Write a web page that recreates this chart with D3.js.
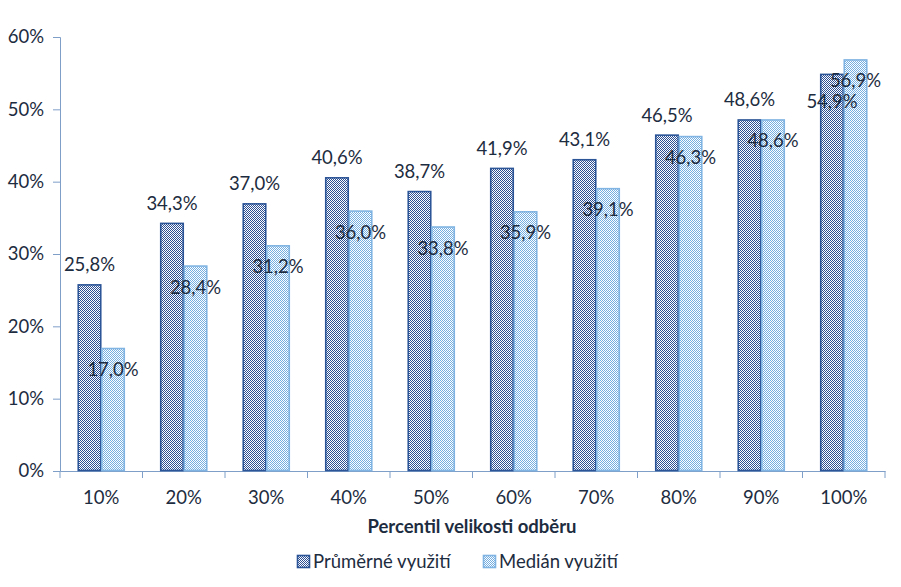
<!DOCTYPE html>
<html><head><meta charset="utf-8">
<script src="https://cdn.jsdelivr.net/npm/d3@7"></script>
<style>body{margin:0;background:#fff}svg{display:block}text{font-family:Lato,"Open Sans",sans-serif}</style>
</head><body><svg id="c" width="901" height="587"></svg>
<script>
const categories = ["10%","20%","30%","40%","50%","60%","70%","80%","90%","100%"];
const prumer = [25.8,34.3,37.0,40.6,38.7,41.9,43.1,46.5,48.6,54.9];
const median = [17.0,28.4,31.2,36.0,33.8,35.9,39.1,46.3,48.6,56.9];
const yTicks = [0,10,20,30,40,50,60];
const seriesNames = ["Průměrné využití","Medián využití"];

const svg = d3.select("#c");
const W = 901, H = 587;
const m = {l:60, r:16, t:37, b:116};
const FS = 18.5;
const x = d3.scaleBand().domain(categories).range([m.l, W - m.r]);
const bw = x.bandwidth() * 0.285;
const off = (x.bandwidth() - 2*bw) / 2;
const y = d3.scaleLinear().domain([0,60]).range([H - m.b, m.t]);
const textCol = "#1d2c40", axisCol = "#7f9fc8";
const fmt = v => v.toFixed(1).replace(".", ",") + "%";

// patterns
const defs = svg.append("defs");
const cols = [{fill:"#2c4f93", stroke:"#2c5597"},{fill:"#74ade0", stroke:"#80b4e2"}];
cols.forEach((c,i)=>{
  const p = defs.append("pattern").attr("id","p"+i).attr("patternUnits","userSpaceOnUse")
    .attr("width",2).attr("height",2);
  p.append("rect").attr("width",2).attr("height",2).attr("fill","#fff");
  p.append("rect").attr("x",0).attr("y",0).attr("width",1).attr("height",1).attr("fill",c.fill);
  p.append("rect").attr("x",1).attr("y",1).attr("width",1).attr("height",1).attr("fill",c.fill);
});

// axes
const yAxis = svg.append("g").attr("transform",`translate(${m.l},0)`)
  .call(d3.axisLeft(y).tickValues(yTicks).tickSize(7).tickPadding(9).tickFormat(d=>d+"%"));
const xAxis = svg.append("g").attr("transform",`translate(0,${H-m.b})`)
  .call(d3.axisBottom(x).tickSize(0).tickPadding(20));
svg.append("g").selectAll("line").data(d3.range(categories.length+1))
  .join("line")
  .attr("x1",i=>i<categories.length? x(categories[i]) : x.range()[1])
  .attr("x2",i=>i<categories.length? x(categories[i]) : x.range()[1])
  .attr("y1",H-m.b).attr("y2",H-m.b+7).attr("stroke",axisCol);
[yAxis,xAxis].forEach(g=>{
  g.selectAll("path,line").attr("stroke",axisCol);
  g.selectAll("text").attr("fill",textCol).attr("font-size",FS);
});

// bars
const series = [prumer, median];
const bx = (i,si) => x(categories[i]) + off + si*bw;
series.forEach((vals,si)=>{
  svg.append("g").selectAll("rect").data(vals).join("rect")
    .attr("x",(d,i)=>bx(i,si) + 0.5)
    .attr("y",d=>y(d)+0.5)
    .attr("width",bw-1)
    .attr("height",d=>y(0)-y(d)-1)
    .attr("fill",`url(#p${si})`).attr("stroke",cols[si].stroke).attr("stroke-width",1.6);
});

// labels
series.forEach((vals,si)=>{
  svg.append("g").selectAll("text").data(vals).join("text")
    .attr("x",(d,i)=>bx(i,si) + bw/2)
    .attr("y",d=>{
      if (si===0) return d>50 ? y(d)+34 : y(d)-13;
      return y(d)+28;
    })
    .attr("text-anchor","middle").attr("font-size",FS).attr("fill",textCol)
    .text(fmt);
});

// axis title
svg.append("text").attr("x",472).attr("y",533).attr("text-anchor","middle")
  .attr("font-size",FS).attr("font-weight","bold").attr("fill",textCol)
  .text("Percentil velikosti odběru");

// legend
const lg = svg.append("g");
const legX = [297, 483];
seriesNames.forEach((n,i)=>{
  lg.append("rect").attr("x",legX[i]+0.5).attr("y",555.5).attr("width",12).attr("height",12)
    .attr("fill",`url(#p${i})`).attr("stroke",cols[i].stroke).attr("stroke-width",1.6);
  lg.append("text").attr("x",legX[i]+16).attr("y",568).attr("font-size",FS).attr("fill",textCol).text(n);
});
</script></body></html>
